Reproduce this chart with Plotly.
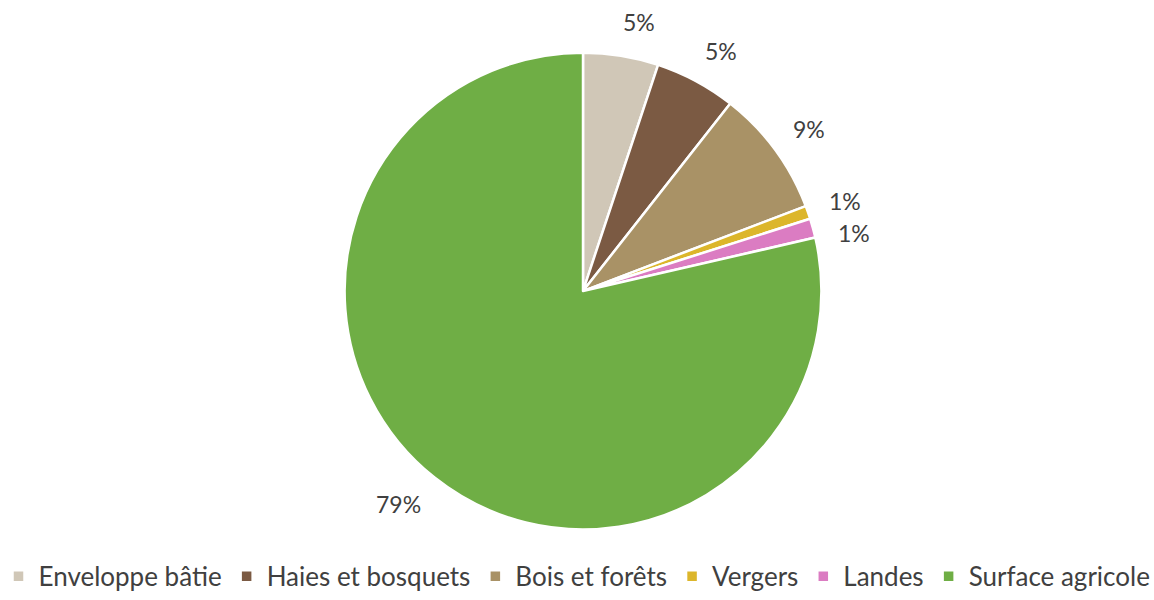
import math
import plotly.graph_objects as go

categories = ["Enveloppe bâtie", "Haies et bosquets", "Bois et forêts", "Vergers", "Landes", "Surface agricole"]
values = [5.1, 5.5, 8.6, 0.9, 1.3, 78.6]
labels_txt = ["5%", "5%", "9%", "1%", "1%", "79%"]
colors = ["#d0c7b7", "#7b5a43", "#a99266", "#dcb62b", "#db7cc2", "#6fae45"]

W, H = 1154, 600
cx, cy, r = 583, 293, 240
label_font = 23
font_family = "Lato, Carlito, sans-serif"

fig = go.Figure(go.Pie(
    labels=categories,
    values=values,
    textinfo="none",
    sort=False,
    direction="clockwise",
    rotation=0,
    marker=dict(colors=colors, line=dict(color="white", width=2.5)),
    domain=dict(x=[(cx - r) / W, (cx + r) / W], y=[1 - (cy + r) / H, 1 - (cy - r) / H]),
    hoverinfo="label+percent",
))

# outside labels, positioned from the data (mid-angle of each slice),
# with a simple collision push for neighbouring labels
total = sum(values)
cum = 0.0
annotations = []
prev = None
for v, t in zip(values, labels_txt):
    mid = (cum + v / 2) / total * 2 * math.pi
    cum += v
    s, c = math.sin(mid), math.cos(mid)
    hw = 0.3 * label_font * len(t)
    hh = 0.5 * label_font
    d = r + 23
    px = cx + d * s + hw * (1 if s >= 0 else -1)
    py = cy - d * c - hh * c
    if prev is not None:
        ppx, ppy, phw = prev
        if abs(px - ppx) < phw + hw and abs(py - ppy) < 1.4 * label_font:
            py = ppy + 1.4 * label_font
            px = max(px, ppx + 0.4 * label_font)
    prev = (px, py, hw)
    annotations.append(dict(
        x=px / W, y=1 - py / H, xref="paper", yref="paper",
        text=t, showarrow=False, xanchor="center", yanchor="middle",
        font=dict(family=font_family, size=label_font, color="#404040"),
    ))

fig.update_layout(
    width=W, height=H,
    margin=dict(l=0, r=0, t=0, b=0),
    paper_bgcolor="white",
    plot_bgcolor="white",
    showlegend=True,
    annotations=annotations,
    legend=dict(
        orientation="h",
        x=0.5, xanchor="center",
        y=0.033, yanchor="middle",
        font=dict(family=font_family, size=26, color="#404040"),
        itemwidth=30,
        traceorder="normal",
    ),
)

fig.write_html("out.html", config={"displayModeBar": False},
               post_script="document.body.style.margin='0';")
